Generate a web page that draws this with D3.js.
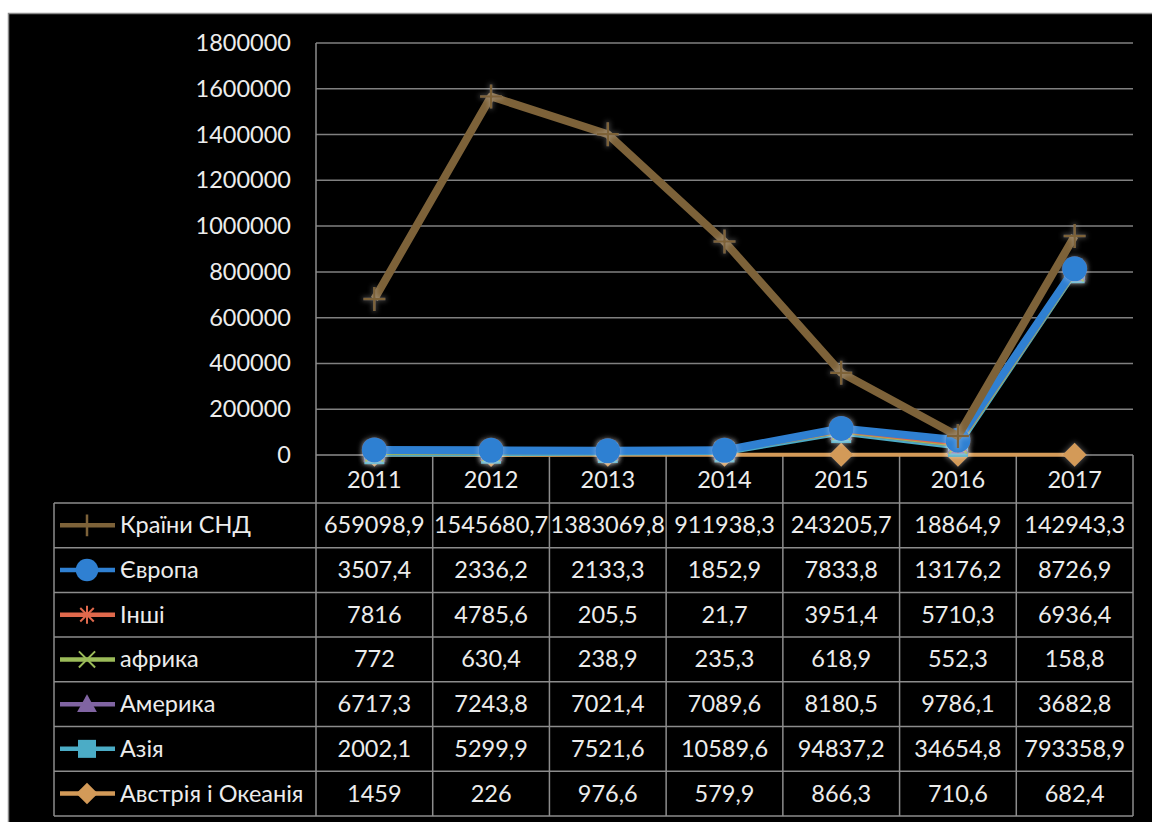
<!DOCTYPE html>
<html>
<head>
<meta charset="utf-8">
<script src="https://cdn.jsdelivr.net/npm/d3@7/dist/d3.min.js"></script>
<style>
  html, body { margin: 0; padding: 0; background: #ffffff; }
  svg { display: block; }
</style>
</head>
<body>
<svg id="chart" width="1152" height="822"></svg>
<script>
// Years on the category axis
const years = ["2011", "2012", "2013", "2014", "2015", "2016", "2017"];

// Series, in the order they appear in the data table
const seriesNames = ["Країни СНД", "Європа", "Інші", "африка", "Америка", "Азія", "Австрія і Океанія"];

const cisValues       = [659098.9, 1545680.7, 1383069.8, 911938.3, 243205.7, 18864.9, 142943.3];
const europeValues    = [3507.4, 2336.2, 2133.3, 1852.9, 7833.8, 13176.2, 8726.9];
const otherValues     = [7816, 4785.6, 205.5, 21.7, 3951.4, 5710.3, 6936.4];
const africaValues    = [772, 630.4, 238.9, 235.3, 618.9, 552.3, 158.8];
const americaValues   = [6717.3, 7243.8, 7021.4, 7089.6, 8180.5, 9786.1, 3682.8];
const asiaValues      = [2002.1, 5299.9, 7521.6, 10589.6, 94837.2, 34654.8, 793358.9];
const oceaniaValues   = [1459, 226, 976.6, 579.9, 866.3, 710.6, 682.4];

// Table text as it is printed (decimal comma)
const cisLabels     = ["659098,9", "1545680,7", "1383069,8", "911938,3", "243205,7", "18864,9", "142943,3"];
const europeLabels  = ["3507,4", "2336,2", "2133,3", "1852,9", "7833,8", "13176,2", "8726,9"];
const otherLabels   = ["7816", "4785,6", "205,5", "21,7", "3951,4", "5710,3", "6936,4"];
const africaLabels  = ["772", "630,4", "238,9", "235,3", "618,9", "552,3", "158,8"];
const americaLabels = ["6717,3", "7243,8", "7021,4", "7089,6", "8180,5", "9786,1", "3682,8"];
const asiaLabels    = ["2002,1", "5299,9", "7521,6", "10589,6", "94837,2", "34654,8", "793358,9"];
const oceaniaLabels = ["1459", "226", "976,6", "579,9", "866,3", "710,6", "682,4"];

const yTicks = [0, 200000, 400000, 600000, 800000, 1000000, 1200000, 1400000, 1600000, 1800000];

// Styles per series
const seriesStyle = {
  "Країни СНД":        { color: "#7d6239", width: 8, marker: "plus" },
  "Європа":            { color: "#2f80d2", width: 8, marker: "circle" },
  "Інші":              { color: "#e0694c", width: 5, marker: "star" },
  "африка":            { color: "#9bbb59", width: 5, marker: "x" },
  "Америка":           { color: "#8064a2", width: 5, marker: "triangle" },
  "Азія":              { color: "#4bacc6", width: 5, marker: "square" },
  "Австрія і Океанія": { color: "#d39a58", width: 4, marker: "diamond" }
};

const valuesBySeries = [cisValues, europeValues, otherValues, africaValues, americaValues, asiaValues, oceaniaValues];
const labelsBySeries = [cisLabels, europeLabels, otherLabels, africaLabels, americaLabels, asiaLabels, oceaniaLabels];

// Rows for the stack: one object per year
const rows = years.map((yr, i) => {
  const r = { year: yr };
  seriesNames.forEach((s, k) => { r[s] = valuesBySeries[k][i]; });
  return r;
});

// Stacked line: the last table row sits at the bottom of the stack
const stackKeys = seriesNames.slice().reverse();
const stacked = d3.stack().keys(stackKeys)(rows);

const svg = d3.select("#chart");
const W = 1152, H = 822;
const FONT = "Lato, 'Open Sans', sans-serif";
const FS = 23.5;

// Plot geometry
const plotLeft = 316, plotRight = 1133, plotTop = 43, plotBottom = 455;
const tableLeft = 54, headerBottom = 503, rowH = 44.7;

const x = d3.scaleBand().domain(years).range([plotLeft, plotRight]);
const y = d3.scaleLinear().domain([0, 1800000]).range([plotBottom, plotTop]);

// Soft glow used around the markers
const defs = svg.append("defs");
const glow = defs.append("filter").attr("id", "glow")
  .attr("x", "-50%").attr("y", "-50%").attr("width", "200%").attr("height", "200%");
glow.append("feMorphology").attr("in", "SourceAlpha").attr("operator", "dilate").attr("radius", 1).attr("result", "d");
glow.append("feGaussianBlur").attr("in", "d").attr("stdDeviation", 2.5).attr("result", "b");
glow.append("feFlood").attr("flood-color", "#ffffff").attr("flood-opacity", 0.25);
glow.append("feComposite").attr("in2", "b").attr("operator", "in").attr("result", "g");
const gm = glow.append("feMerge");
gm.append("feMergeNode").attr("in", "g");
gm.append("feMergeNode").attr("in", "SourceGraphic");

// Background panel
svg.append("rect").attr("x", 0).attr("y", 0).attr("width", W).attr("height", H).attr("fill", "#ffffff");
svg.append("rect").attr("x", 8.5).attr("y", 13.5).attr("width", W).attr("height", H)
  .attr("fill", "#000000").attr("stroke", "#8a8a8a").attr("stroke-width", 1.5);

// Horizontal gridlines and value axis labels
const grid = svg.append("g");
grid.selectAll("line").data(yTicks.filter(t => t > 0)).join("line")
  .attr("x1", plotLeft).attr("x2", plotRight)
  .attr("y1", d => y(d)).attr("y2", d => y(d))
  .attr("stroke", "#808080").attr("stroke-width", 1.5);

svg.append("g").selectAll("text").data(yTicks).join("text")
  .attr("x", 291).attr("y", d => y(d) + 8)
  .attr("text-anchor", "end")
  .attr("font-family", FONT).attr("font-size", FS)
  .attr("fill", "#ececec")
  .text(d => d3.format("d")(d));

// Data table grid
const tbl = svg.append("g").attr("stroke", "#8c8c8c").attr("stroke-width", 1.5).attr("fill", "none");
const tableBottom = headerBottom + rowH * seriesNames.length;
// top of header row (value axis zero line)
tbl.append("line").attr("x1", plotLeft).attr("x2", plotRight).attr("y1", plotBottom).attr("y2", plotBottom);
// header bottom and row separators
d3.range(seriesNames.length + 1).forEach(i => {
  const yy = headerBottom + i * rowH;
  tbl.append("line").attr("x1", tableLeft).attr("x2", plotRight).attr("y1", yy).attr("y2", yy);
});
// vertical lines
tbl.append("line").attr("x1", tableLeft).attr("x2", tableLeft).attr("y1", headerBottom).attr("y2", tableBottom);
tbl.append("line").attr("x1", plotLeft).attr("x2", plotLeft).attr("y1", plotTop).attr("y2", tableBottom);
years.forEach((yr, i) => {
  const xx = x(yr) + x.bandwidth();
  tbl.append("line").attr("x1", xx).attr("x2", xx).attr("y1", plotBottom).attr("y2", tableBottom);
});

// Year header
svg.append("g").selectAll("text").data(years).join("text")
  .attr("x", d => x(d) + x.bandwidth() / 2)
  .attr("y", (plotBottom + headerBottom) / 2 + 9)
  .attr("text-anchor", "middle")
  .attr("font-family", FONT).attr("font-size", FS).attr("fill", "#ececec")
  .text(d => d);

// Marker shapes
function drawMarker(g, type, color, cx, cy, scale) {
  const s = scale || 1;
  if (type === "circle") {
    g.append("circle").attr("cx", cx).attr("cy", cy).attr("r", 12.5 * s).attr("fill", color);
  } else if (type === "plus") {
    g.append("path").attr("d", `M${cx - 11 * s},${cy}H${cx + 11 * s}M${cx},${cy - 12 * s}V${cy + 12 * s}`)
      .attr("stroke", color).attr("stroke-width", 2.5).attr("fill", "none");
  } else if (type === "star") {
    const r = 10 * s;
    let d = `M${cx - r},${cy}H${cx + r}M${cx},${cy - r}V${cy + r}`;
    d += `M${cx - r * 0.75},${cy - r * 0.75}L${cx + r * 0.75},${cy + r * 0.75}`;
    d += `M${cx - r * 0.75},${cy + r * 0.75}L${cx + r * 0.75},${cy - r * 0.75}`;
    g.append("path").attr("d", d).attr("stroke", color).attr("stroke-width", 2).attr("fill", "none");
  } else if (type === "x") {
    const r = 9 * s;
    g.append("path").attr("d", `M${cx - r},${cy - r}L${cx + r},${cy + r}M${cx - r},${cy + r}L${cx + r},${cy - r}`)
      .attr("stroke", color).attr("stroke-width", 2).attr("fill", "none");
  } else if (type === "triangle") {
    const r = 11 * s;
    g.append("path").attr("d", `M${cx},${cy - r}L${cx + r},${cy + r * 0.8}L${cx - r},${cy + r * 0.8}Z`).attr("fill", color);
  } else if (type === "square") {
    const r = 10 * s;
    g.append("rect").attr("x", cx - r).attr("y", cy - r).attr("width", 2 * r).attr("height", 2 * r).attr("fill", color);
  } else if (type === "diamond") {
    const r = 12 * s;
    g.append("path").attr("d", `M${cx},${cy - r}L${cx + r},${cy}L${cx},${cy + r}L${cx - r},${cy}Z`).attr("fill", color);
  }
}

// Stacked lines with markers, bottom of the stack drawn first
const line = d3.line().x(d => x(d.data.year) + x.bandwidth() / 2).y(d => y(d[1]));
const plot = svg.append("g");
stacked.forEach(layer => {
  const st = seriesStyle[layer.key];
  const g = plot.append("g");
  g.append("path").datum(layer).attr("d", line)
    .attr("fill", "none").attr("stroke", st.color).attr("stroke-width", st.width)
    .attr("stroke-linejoin", "round");
  const mg = g.append("g").attr("filter", "url(#glow)");
  layer.forEach(d => drawMarker(mg, st.marker, st.color, x(d.data.year) + x.bandwidth() / 2, y(d[1]), 1));
});

// Legend keys and values in the table rows
seriesNames.forEach((name, k) => {
  const st = seriesStyle[name];
  const cy = headerBottom + rowH * k + rowH / 2;
  const g = svg.append("g");
  g.append("line").attr("x1", 60).attr("x2", 115).attr("y1", cy).attr("y2", cy)
    .attr("stroke", st.color).attr("stroke-width", 4.5);
  drawMarker(g, st.marker, st.color, 87, cy, 0.9);
  svg.append("text").attr("x", 120).attr("y", cy + 8)
    .attr("font-family", FONT).attr("font-size", FS).attr("fill", "#ececec")
    .text(name);
  svg.append("g").selectAll("text").data(labelsBySeries[k]).join("text")
    .attr("x", (d, i) => x(years[i]) + x.bandwidth() / 2)
    .attr("y", cy + 8)
    .attr("text-anchor", "middle")
    .attr("font-family", FONT).attr("font-size", FS).attr("fill", "#ececec")
    .text(d => d);
});
</script>
</body>
</html>
